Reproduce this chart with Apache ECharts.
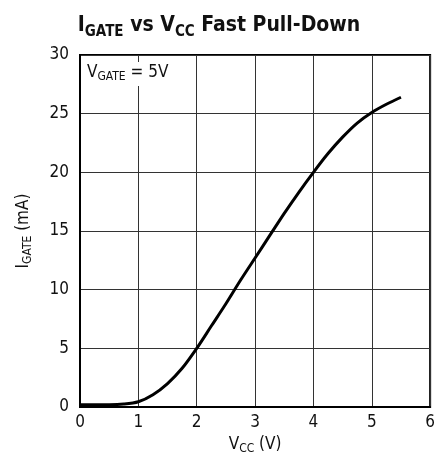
<!DOCTYPE html>
<html>
<head>
<meta charset="utf-8">
<title>IGATE vs VCC Fast Pull-Down</title>
<style>
  html, body { margin: 0; padding: 0; background: #fff; }
  #main { width: 438px; height: 460px; }
</style>
<script src="https://cdn.jsdelivr.net/npm/echarts@6/dist/echarts.min.js"></script>
</head>
<body>
<div id="main"></div>
<script>
  var FONT = "'Liberation Sans Narrow', 'DejaVu Sans Condensed', 'Roboto', sans-serif";

  // Vcc (V) vs Igate (mA)
  var vcc   = [0, 0.25, 0.5, 0.75, 1.0, 1.25, 1.5, 1.75, 2.0, 2.25, 2.5, 2.75, 3.0, 3.25, 3.5, 3.75, 4.0, 4.25, 4.5, 4.75, 5.0, 5.25, 5.5];
  var igate = [0.2, 0.2, 0.2, 0.25, 0.45, 1.05, 2.0, 3.3, 5.0, 6.9, 8.8, 10.8, 12.7, 14.6, 16.5, 18.3, 20.0, 21.6, 23.0, 24.2, 25.1, 25.8, 26.4];

  var xTicks = [0, 1, 2, 3, 4, 5, 6];
  var yTicks = [0, 5, 10, 15, 20, 25, 30];

  var points = vcc.map(function (v, i) { return [v, igate[i]]; });

  // main text + lowered subscript (top aligned, subscript pushed down by padding)
  function subRich(size, subSize, drop, color, bold) {
    var w = bold ? 'bold' : 'normal';
    return {
      n: { fontFamily: FONT, fontWeight: w, fontSize: size, color: color, fill: color, verticalAlign: 'top' },
      s: { fontFamily: FONT, fontWeight: w, fontSize: subSize, color: color, fill: color, verticalAlign: 'top', padding: [drop, 0, 0, 0] }
    };
  }

  var chart = echarts.init(document.getElementById('main'));
  chart.setOption({
    animation: false,
    backgroundColor: '#fff',
    title: {
      left: 'center',
      top: 10,
      text: '{n|I}{s|GATE}{n| vs V}{s|CC}{n| Fast Pull-Down}',
      textStyle: { rich: subRich(21, 15, 10, '#111', true) }
    },
    grid: {
      left: 80, right: 6, top: 55, bottom: 53,
      show: true, borderColor: '#000', borderWidth: 2
    },
    xAxis: {
      type: 'value', min: xTicks[0], max: xTicks[xTicks.length - 1], interval: 1,
      name: '{n|V}{s|CC}{n| (V)}',
      nameLocation: 'middle', nameGap: 23,
      nameTextStyle: { rich: subRich(17, 12, 7, '#111', false) },
      axisLine: { show: true, lineStyle: { color: '#000', width: 2 } },
      axisTick: { show: false },
      axisLabel: { fontFamily: FONT, fontSize: 17, color: '#111', margin: 7 },
      splitLine: { show: true, lineStyle: { color: '#333', width: 1 } }
    },
    yAxis: {
      type: 'value', min: yTicks[0], max: yTicks[yTicks.length - 1], interval: 5,
      name: '{n|I}{s|GATE}{n| (mA)}',
      nameLocation: 'middle', nameGap: 46, nameRotate: 90,
      nameTextStyle: { rich: subRich(17, 12, 7, '#111', false) },
      axisLine: { show: true, lineStyle: { color: '#000', width: 2 } },
      axisTick: { show: false },
      axisLabel: { fontFamily: FONT, fontSize: 17, color: '#111', margin: 11 },
      splitLine: { show: true, lineStyle: { color: '#333', width: 1 } }
    },
    graphic: [{
      type: 'text',
      left: 85, top: 62,
      z: 10,
      style: {
        text: '{n|V}{s|GATE}{n| = 5V}',
        backgroundColor: '#fff',
        padding: [2, 2, 3, 2],
        rich: subRich(17, 12, 7, '#111', false)
      }
    }],
    series: [{
      type: 'line',
      data: points,
      smooth: 0.3,
      symbol: 'none',
      lineStyle: { color: '#000', width: 3 },
      z: 5
    }]
  });
</script>
</body>
</html>
